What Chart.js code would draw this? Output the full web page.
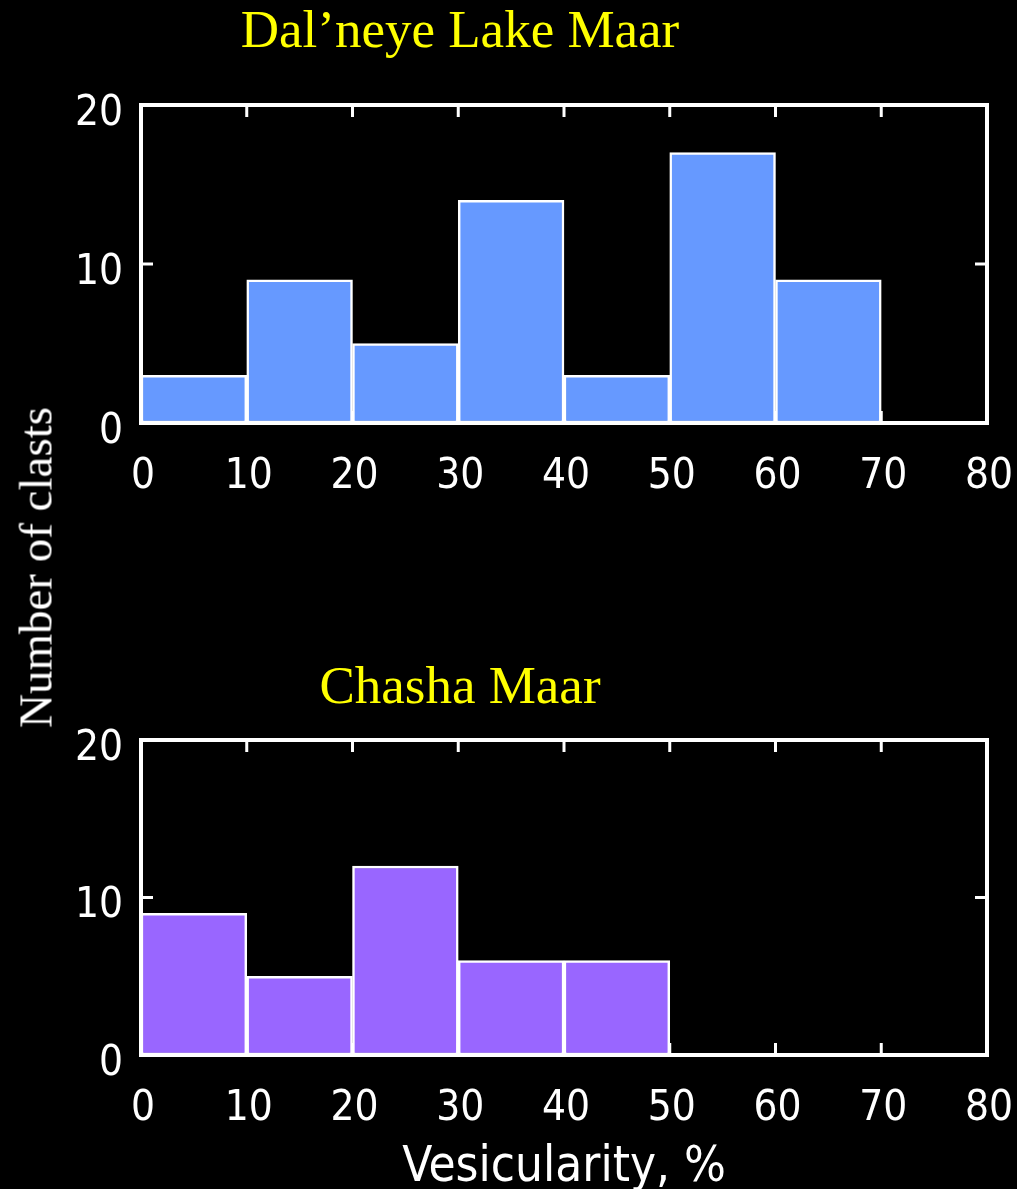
<!DOCTYPE html>
<html><head><meta charset="utf-8">
<script src="https://cdn.jsdelivr.net/npm/chart.js@4.4.0/dist/chart.umd.min.js"></script>
<style>
html,body{margin:0;padding:0;background:#000;width:1017px;height:1189px;overflow:hidden;position:relative;}
canvas{position:absolute;left:0;}
.ttl{position:absolute;left:0;width:920px;text-align:center;font-family:"Liberation Serif","Times New Roman",serif;font-size:53px;line-height:53px;color:#ffff00;white-space:nowrap;}
#ylab{position:absolute;left:-164px;top:543.5px;width:400px;height:47px;line-height:47px;text-align:center;font-family:"Liberation Serif","Times New Roman",serif;font-size:47px;color:#fff;transform:rotate(-90deg);white-space:nowrap;}
</style></head><body>
<div class="ttl" style="top:2.6px">Dal’neye Lake Maar</div>
<canvas id="c1" width="1017" height="540" style="top:0"></canvas>
<div class="ttl" style="top:658.6px">Chasha Maar</div>
<canvas id="c2" width="1017" height="629" style="top:560px"></canvas>
<div id="ylab">Number of clasts</div>
<script>
const binStarts = [0, 10, 20, 30, 40, 50, 60, 70];
const binWidth = 10;
const dalneyeCounts = [3, 9, 5, 14, 3, 17, 9, 0];
const chashaCounts = [9, 5, 12, 6, 6, 0, 0, 0];
const xTicks = [0, 10, 20, 30, 40, 50, 60, 70, 80];
const yTicks = [0, 10, 20];
const xTitleText = 'Vesicularity, %';

const NARROW = '"Liberation Sans Narrow","DejaVu Sans Condensed","Roboto Condensed",Arial,sans-serif';
const TICK_FONT = {family: NARROW, size: 42};

const framePlugin = {
  id: 'frame',
  afterDatasetsDraw(chart) {
    const {ctx, chartArea: a, scales: {x, y}} = chart;
    const line = (x1, y1, x2, y2) => { ctx.beginPath(); ctx.moveTo(x1, y1); ctx.lineTo(x2, y2); ctx.stroke(); };
    ctx.save();
    ctx.strokeStyle = '#fff';
    ctx.lineWidth = 3;
    xTicks.slice(1, -1).forEach(v => {
      const px = x.getPixelForValue(v);
      line(px, a.top, px, a.top + 12);
      line(px, a.bottom, px, a.bottom - 12);
    });
    yTicks.slice(1, -1).forEach(v => {
      const py = y.getPixelForValue(v);
      line(a.left, py, a.left + 12, py);
      line(a.right, py, a.right - 12, py);
    });
    ctx.lineWidth = 4;
    ctx.strokeRect(a.left, a.top, a.right - a.left, a.bottom - a.top);
    ctx.restore();
  }
};

function makeChart(id, counts, color, padTop, axisH, xTitle) {
  return new Chart(document.getElementById(id), {
    type: 'bar',
    data: {
      datasets: [{
        data: binStarts.map((s, i) => ({x: s + binWidth / 2, y: counts[i]})),
        backgroundColor: color,
        borderColor: '#fff',
        borderWidth: 2.5,
        borderSkipped: false,
        barPercentage: 1,
        categoryPercentage: 1
      }]
    },
    options: {
      responsive: false,
      animation: false,
      devicePixelRatio: 1,
      layout: {padding: {top: padTop, right: 30, left: 0, bottom: 0}},
      plugins: {legend: {display: false}, tooltip: {enabled: false}, title: {display: false}},
      scales: {
        x: {
          type: 'linear', min: 0, max: 80, offset: false,
          afterBuildTicks: s => { s.ticks = xTicks.map(v => ({value: v})); },
          ticks: {color: '#fff', font: TICK_FONT, padding: 29, maxRotation: 0, autoSkip: false, labelOffset: 2},
          grid: {display: false, drawTicks: false, offset: false},
          border: {display: false},
          afterFit: s => { s.height = axisH; s.paddingLeft = 0; s.paddingRight = 0; },
          title: xTitle ? {display: true, text: xTitle, color: '#fff', font: {family: NARROW, size: 49, lineHeight: 0.85}, padding: 0} : {display: false}
        },
        y: {
          min: 0, max: 20,
          afterBuildTicks: s => { s.ticks = yTicks.map(v => ({value: v})); },
          ticks: {color: '#fff', font: TICK_FONT, padding: 18, labelOffset: 9},
          grid: {display: false, drawTicks: false},
          border: {display: false},
          afterFit: s => { s.width = 141; s.paddingTop = 0; s.paddingBottom = 0; }
        }
      }
    },
    plugins: [framePlugin]
  });
}

makeChart('c1', dalneyeCounts, '#6699ff', 105, 117, null);
makeChart('c2', chashaCounts, '#9966ff', 180, 134, xTitleText);
</script>
</body></html>
